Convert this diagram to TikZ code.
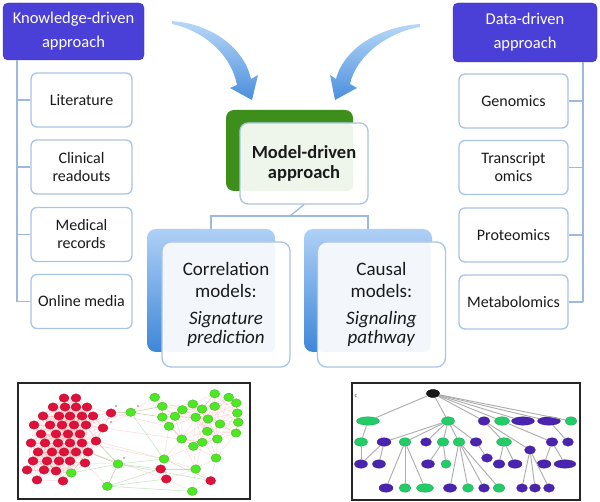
\documentclass[tikz,border=0pt]{standalone}
\usepackage{fontspec}
\setmainfont{Carlito}
\usetikzlibrary{calc,shapes.geometric}
\definecolor{hdrblue}{HTML}{4A3FD6}
\definecolor{boxline}{HTML}{A9C4E6}
\definecolor{busline}{HTML}{9DB9DD}
\definecolor{mgreen}{HTML}{3E8E1C}
\definecolor{mtint}{HTML}{EEF6EC}
\definecolor{btint}{HTML}{F3F7FC}
\definecolor{bluetop}{HTML}{AFD0F6}
\definecolor{bluebot}{HTML}{3D87D8}
\definecolor{arrlight}{HTML}{B8D7F8}
\definecolor{arrdark}{HTML}{4A8FDC}
\definecolor{netred}{HTML}{E0103A}
\definecolor{netgreen}{HTML}{4CE824}
\definecolor{treegreen}{HTML}{22CC66}
\definecolor{treepurple}{HTML}{4A24B0}
\definecolor{txt}{HTML}{1A1A1A}
\tikzset{
  hdr/.style={fill=hdrblue, draw=hdrblue!80!black, line width=0.4pt, rounded corners=5pt,
    text=white, align=center, font=\fontsize{16.5}{24}\selectfont, inner sep=0pt},
  itembox/.style={draw=boxline, line width=1.3pt, fill=white, rounded corners=6pt,
    minimum height=54pt, inner sep=0pt, align=center, text=txt,
    font=\fontsize{16}{18}\selectfont},
  bus/.style={draw=busline, line width=1.5pt},
  backbox/.style={rounded corners=9pt, minimum width=128pt, minimum height=123pt, inner sep=0pt,
    top color=bluetop, bottom color=bluebot},
  frontbox/.style={draw=boxline, line width=1.3pt, fill=white, rounded corners=9pt,
    minimum width=128pt, minimum height=125pt, inner sep=0pt, align=center, text=txt,
    font=\fontsize{19}{22}\selectfont},
  netr/.style={ellipse, fill=netred, draw=netred!70!black, line width=0.2pt, minimum width=10pt, minimum height=8.5pt, inner sep=0pt},
  netg/.style={ellipse, fill=netgreen, draw=netgreen!70!black, line width=0.2pt, minimum width=10pt, minimum height=8.5pt, inner sep=0pt},
  tg/.style={ellipse, fill=treegreen, draw=treegreen!70!black, line width=0.2pt, minimum height=8.5pt, inner sep=0pt},
  tp/.style={ellipse, fill=treepurple, draw=treepurple!70!black, line width=0.2pt, minimum height=8.5pt, inner sep=0pt},
  tedge/.style={draw=gray!65, line width=0.9pt},
  frame/.style={draw=black!85, line width=1.3pt}
}
\begin{document}
\begin{tikzpicture}[x=1pt,y=-1pt]
\useasboundingbox (0,0) rectangle (600,502);
\fill[white] (0,0) rectangle (600,502);

% ---------- left column ----------
\node[hdr, minimum width=141pt, minimum height=57pt] (kh) at (73.5,31.5) {Knowledge-driven\\approach};
\coordinate (lbus) at (17,302);
\node[itembox, minimum width=101pt] (lit) at (81.5,100) {Literature};
\node[itembox, minimum width=101pt] (cli) at (81.5,167) {Clinical\\readouts};
\node[itembox, minimum width=101pt] (med) at (81.5,234.5) {Medical\\records};
\node[itembox, minimum width=101pt] (onl) at (81.5,301.5) {Online media};
\draw[bus] (kh.south -| lbus) -- (lbus);
\foreach \b in {lit,cli,med,onl} \draw[bus] (\b.west -| lbus) -- (\b.west);

% ---------- right column ----------
\node[hdr, minimum width=144pt, minimum height=59pt] (dh) at (525,32.5) {Data-driven\\approach};
\coordinate (rbus) at (583,302);
\node[itembox, minimum width=109pt] (gen) at (513.5,101) {Genomics};
\node[itembox, minimum width=109pt] (tra) at (513.5,167.5) {Transcript\\omics};
\node[itembox, minimum width=109pt] (pro) at (513.5,235) {Proteomics};
\node[itembox, minimum width=109pt] (met) at (513.5,302) {Metabolomics};
\draw[bus] (dh.south -| rbus) -- (rbus);
\foreach \b in {gen,tra,pro,met} \draw[bus] (\b.east -| rbus) -- (\b.east);

% ---------- curved arrows ----------
\shade[top color=arrlight, bottom color=arrdark]
  (172,21) .. controls (212,24) and (244,48) .. (251,79) -- (258,75) -- (252,100) -- (230,88) -- (237,85)
  .. controls (232,58) and (208,32) .. (172,24) -- cycle;
\shade[top color=arrlight, bottom color=arrdark]
  (420,24) .. controls (385,26) and (345,45) .. (336,79) -- (330,75) -- (335,100) -- (357,88) -- (350,84)
  .. controls (356,56) and (388,32) .. (420,27) -- cycle;

% ---------- model-driven ----------
\node[fill=mgreen, rounded corners=8pt, minimum width=127pt, minimum height=81pt, inner sep=0pt] (mg) at (289.5,150.5) {};
\node[draw=boxline, line width=1.3pt, fill=white, rounded corners=8pt, minimum width=128pt, minimum height=81pt,
  inner sep=0pt, align=center, text=txt, font=\bfseries\fontsize{18.5}{20}\selectfont,
  path picture={\fill[mtint, rounded corners=6pt] (path picture bounding box.north west) rectangle ($(path picture bounding box.south east)+(-15,-13)$);}]
  (md) at (304,163.5) {Model-driven\\approach};

\coordinate (mbar) at (290,216);
\node[backbox] (cb) at (211,290.5) {};
\node[backbox] (sb) at (368,290.5) {};
\draw[bus, line width=1.3pt] (md.south) -- (mbar);
\draw[bus, line width=1.3pt] (cb.north) -- (cb.north |- mbar) -- (sb.north |- mbar) -- (sb.north);

\node[frontbox, path picture={\fill[btint, rounded corners=6pt] (path picture bounding box.north west) rectangle ($(path picture bounding box.south east)+(-15,-15)$);}]
  (cf) at (226,304.5) {Correlation\\models:\\[5pt]\textit{Signature}\\[-3pt]\textit{prediction}};
\node[frontbox, path picture={\fill[btint, rounded corners=6pt] (path picture bounding box.north west) rectangle ($(path picture bounding box.south east)+(-15,-15)$);}]
  (sf) at (381.5,304.5) {Causal\\models:\\[5pt]\textit{Signaling}\\[-3pt]\textit{pathway}};

% ---------- bottom-left network ----------
\node[frame, minimum width=232pt, minimum height=116pt, inner sep=0pt] (netf) at (134,441) {};
\def\netlist{64/398/r,76/398/r,
53/407/r,65/407/r,76/407/r,87/407/r,
43/416/r,59/416/r,70/416/r,82/416/r,93/416/r,111/413/r,
34/425/r,50/425/r,62/425/r,74/425/r,86/425/r,103/428/r,
41/434/r,56/434/r,68/434/r,80/434/r,
31/443/r,45/443/r,58/443/r,70/443/r,82/443/r,96/441/r,
38/452/r,52/452/r,64/452/r,76/452/r,88/452/r,
33/461/r,47/461/r,59/461/r,70/461/r,85/463/r,
27/470/r,44/470/r,56/471/r,
37/480/r,63/481/r,
130.7/412.3/g,118/464/g,107.3/486.3/g,71.3/473/g,
154.7/397.3/g,162.3/406.3/g,162.3/417/g,175/416.3/g,182.3/409.7/g,192.7/404/g,202/409/g,
214.7/393.7/g,228.7/397.3/g,236.3/403/g,214.7/406.3/g,195.7/417.3/g,208/419/g,220/424/g,
237.3/413/g,238.3/422.3/g,236/433/g,169/426.3/g,207.3/431.3/g,181.7/439/g,217.3/439/g,
193.3/446.3/g,202.3/442.3/g,216/458/g,164/459/g,195.7/469/g,192.3/491.3/g,
160.7/469/r,166.3/479/r,210.7/480.7/r}
\foreach \x/\y/\c [count=\i] in \netlist {
  \coordinate (p\i) at (\x,\y);
  \expandafter\xdef\csname px\i\endcsname{\x}%
  \expandafter\xdef\csname py\i\endcsname{\y}%
  \xdef\netN{\i}%
}
\foreach \i in {1,...,\netN}{
  \foreach \j in {\i,...,\netN}{
    \pgfmathsetmacro\dd{veclen(\csname px\i\endcsname-\csname px\j\endcsname,\csname py\i\endcsname-\csname py\j\endcsname)}
    \ifdim\dd pt<34pt \ifdim\dd pt>1pt
      \draw[red!45, opacity=0.3, line width=0.5pt] (p\i) -- (p\j);
    \fi\fi
  }
}
\foreach \a/\b in {44/49,44/12,44/72,45/72,45/75,45/28,46/45,46/75,46/74,47/45,47/34,45/33,44/50,72/77,75/73,46/76,45/77,47/33}
  \draw[green!60!black, opacity=0.25, line width=0.5pt] (p\a) -- (p\b);
\foreach \a/\b in {18/70,12/65,28/72,17/44,19/72,33/76}
  \draw[red!50, opacity=0.3, line width=0.5pt] (p\a) -- (p\b);
\foreach \x/\y/\c [count=\i] in \netlist { \node[net\c] (n\i) at (p\i) {}; }
\foreach \x/\y [count=\i] in {116/406,111/422,124/458,138/406}
  \fill[gray!70] (\x,\y) circle (1.1pt);

% ---------- bottom-right tree ----------
\node[frame, minimum width=228pt, minimum height=117pt, inner sep=0pt] (treef) at (466,441.5) {};
\node[font=\fontsize{6}{6}\selectfont, text=black!80, inner sep=0pt] (clab) at (356,396) {c};
\node[ellipse, fill=black!90, draw=black, minimum width=13pt, minimum height=8pt, inner sep=0pt] (t0) at (433,393.5) {};
\foreach \n/\x/\w/\c in {a1/368/23/g,a2/448/13/g,a3/484/12/p,a4/502/15/g,a5/523/23/p,a6/549/23/p,a7/571/12/g}
  \node[t\c, minimum width=\w pt] (\n) at (\x,421) {};
\foreach \n/\x/\y/\w/\c in {b1/361/442/13/g,b2/384/442/14/p,b3/405/442/12/g,b4/426/442/11/p,b5/443/442/12/g,
  b6/459/442/12/g,b7/476/442/12/p,b8/504/442/15/g,b9/530/450/11/p,b10/552/442/12/p,b11/568/442/11/p}
  \node[t\c, minimum width=\w pt] (\n) at (\x,\y) {};
\foreach \n/\x/\y/\w/\c in {c1/361/464/13/p,c2/379/464/13/p,c3/428/464/13/p,c4/446/464/10/g,c5/487/458/11/p,
  c6/499/464/12/p,c7/515/464/14/p,c8/544/464/14/p,c9/565/464/22/p}
  \node[t\c, minimum width=\w pt] (\n) at (\x,\y) {};
\foreach \n/\x/\w/\c in {d1/386/14/p,d2/405/12/g,d3/425/17/g,d4/450/13/p,d5/468/11/g,d6/484/11/p,d7/499/12/g,
  d8/522/11/p,d9/535/11/p,d10/549/11/p}
  \node[t\c, minimum width=\w pt] (\n) at (\x,488) {};
\foreach \s/\t in {t0/a1,t0/a2,t0/a3,t0/a4,t0/a5,t0/a6,t0/a7,a1/b1,b1/c1,b2/c1,b2/c2,
  a2/b2,a2/b3,a2/b4,a2/b5,a2/b6,a2/b7,b3/d1,b3/d2,b3/d3,b5/c3,b5/c4,b6/d4,b6/d5,b6/d6,b6/d7,
  b7/c5,a3/b8,a3/b9,a4/b10,b8/c6,b8/c7,b9/d8,b9/d9,b9/d10,b10/c8,b10/c9,a6/b11}
  \draw[tedge] (\s) -- (\t);
\end{tikzpicture}
\end{document}
